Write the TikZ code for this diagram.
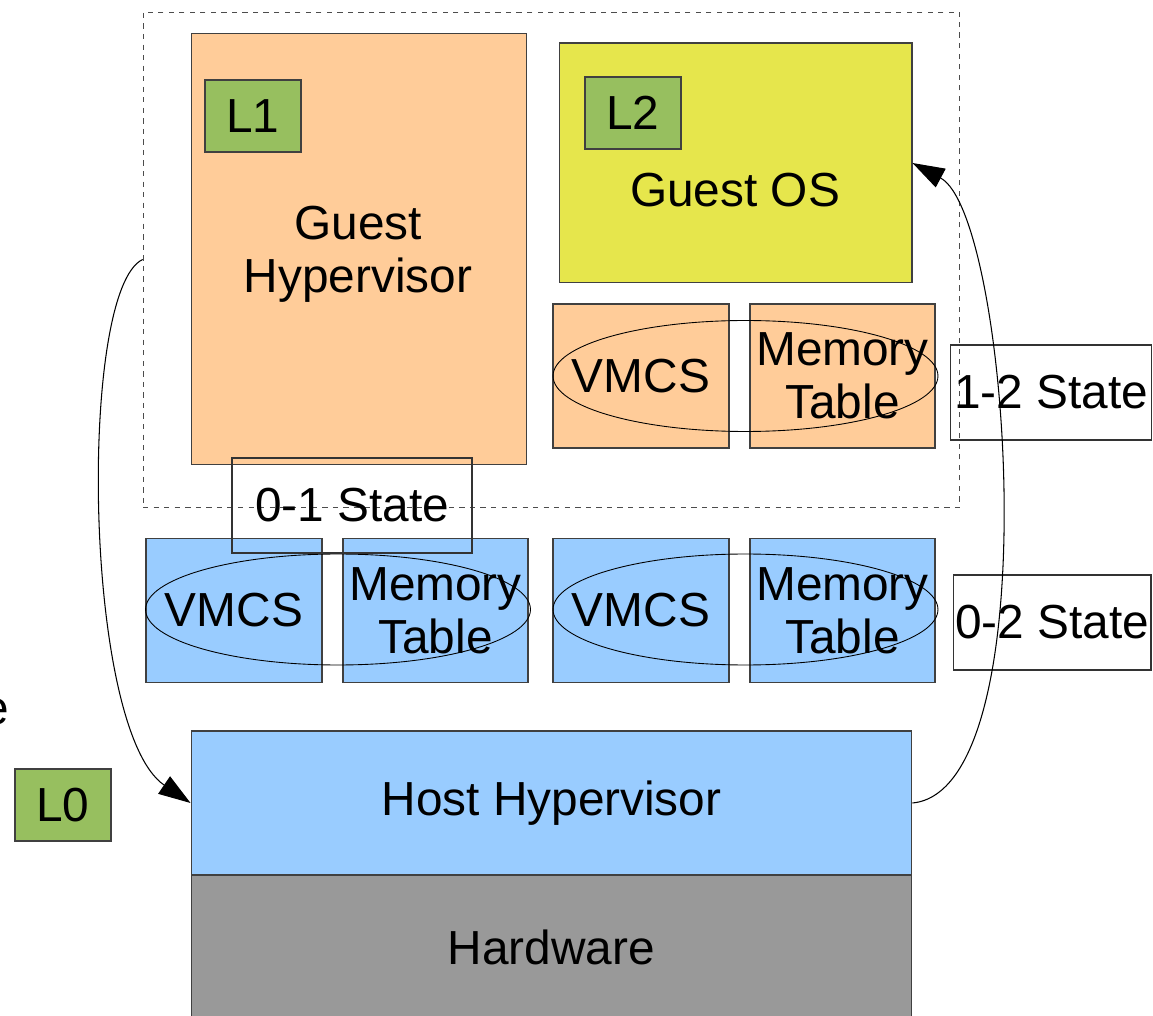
\documentclass[tikz,border=0pt]{standalone}
\usepackage{fontspec}
\setmainfont{Liberation Sans}
\usetikzlibrary{positioning,shapes,arrows.meta}
\definecolor{hvorange}{HTML}{FFCC99}
\definecolor{osyellow}{HTML}{E6E64C}
\definecolor{lvgreen}{HTML}{97BF5F}
\definecolor{hostblue}{HTML}{99CCFF}
\definecolor{hwgray}{HTML}{999999}
\tikzset{
layer/.style={draw=black!75, line width=0.6pt, align=center, inner sep=0pt},
lvl/.style={layer, fill=lvgreen, minimum width=1.92cm, minimum height=1.44cm},
vmcs/.style={layer, minimum width=3.52cm, minimum height=2.88cm},
memtab/.style={layer, minimum width=3.7cm, minimum height=2.88cm},
pair/.style={draw, ellipse, line width=0.5pt, minimum width=7.7cm, minimum height=2.22cm},
statebox/.style={draw=black!80, line width=0.6pt, minimum height=1.9cm, inner sep=1pt},
flow/.style={line width=0.6pt, -{Triangle[length=0.64cm,width=0.42cm]}}
}

\begin{document}
\begin{tikzpicture}[x=0.02cm, y=-0.02cm, font=\fontsize{27.2}{30}\selectfont]
	\useasboundingbox (0,0) rectangle (1153,1016);

	% nested guest
	\node[draw=black!70, dashed, line width=0.5pt, minimum width=16.34cm, minimum height=9.9cm] (frame) at (551.5,259.5) {};
	\node[layer, fill=hvorange, minimum width=6.72cm, minimum height=8.64cm] (ghyp) at (359,249) {};
	\node[align=center] (ghyptxt) at (358,254) {Guest\\Hypervisor};
	\node[lvl] (l1) at (253,116) {L1};
	\node[layer, fill=osyellow, minimum width=7.06cm, minimum height=4.8cm] (gos) at (735.5,163) {};
	\node (gostxt) at (735,190) {Guest OS};
	\node[lvl] (l2) at (633,113) {L2};

	% 1-2 state
	\node[vmcs, fill=hvorange] (vmcs12) at (641,376) {VMCS};
	\node[memtab, fill=hvorange] (mem12) at (842.5,376) {Memory\\Table};
	\node[pair] (ov12) at (745.5,376) {};
	\node[statebox, minimum width=4.02cm] (st12) at (1051,392.5) {1-2 State};

	% 0-1 and 0-2 state
	\node[vmcs, fill=hostblue] (vmcs01) at (234,610.5) {VMCS};
	\node[memtab, fill=hostblue] (mem01) at (435.5,610.5) {Memory\\Table};
	\node[pair] (ov01) at (338,609.5) {};
	\node[vmcs, fill=hostblue] (vmcs02) at (641,610.5) {VMCS};
	\node[memtab, fill=hostblue] (mem02) at (842.5,610.5) {Memory\\Table};
	\node[pair] (ov02) at (745.5,609.5) {};
	\node[statebox, minimum width=4.8cm] (st01) at (352,505.5) {0-1 State};
	\node[statebox, minimum width=3.96cm] (st02) at (1052,622.5) {0-2 State};

	% host
	\node[layer, fill=hostblue, minimum width=14.42cm, minimum height=2.88cm] (host) at (551.5,803) {Host Hypervisor};
	\node[layer, fill=hwgray, minimum width=14.42cm, minimum height=2.9cm] (hw) at (551.5,947.5) {Hardware};
	\node[lvl] (l0) at (63,805) {L0};
	\node[anchor=east, inner sep=0pt] (frag) at (9,712) {e};

	\draw[flow] (frame.west) .. controls (78,290) and (83,730) .. (host.west);
	\draw[flow] (host.east) .. controls (1050,790) and (1010,215) .. (gos.east);
\end{tikzpicture}
\end{document}
